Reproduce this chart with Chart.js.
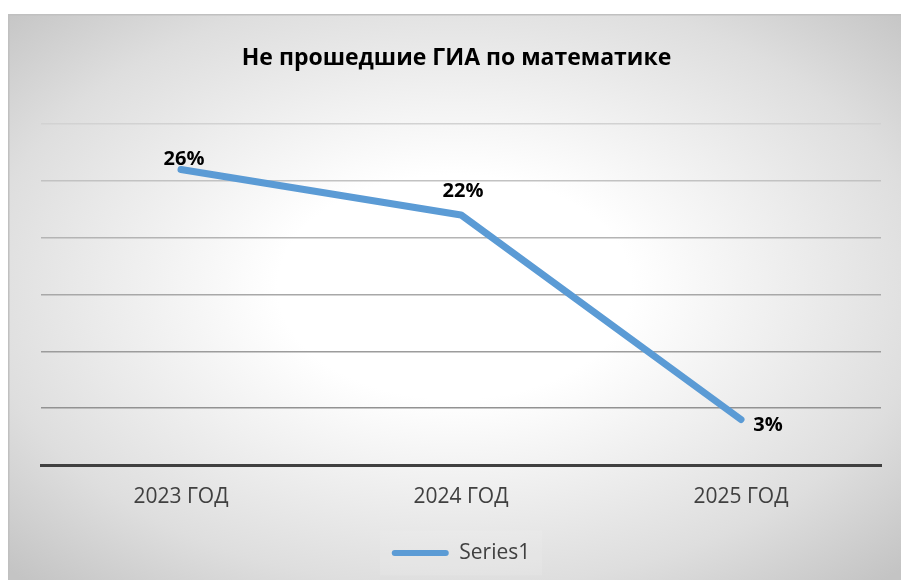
<!DOCTYPE html>
<html><head><meta charset="utf-8">
<script src="https://cdn.jsdelivr.net/npm/chart.js@4"></script>
<style>html,body{margin:0;padding:0;background:#fff}#wrap{width:901px;height:580px}</style>
</head><body><div id="wrap"><canvas id="c" width="901" height="580"></canvas></div>
<script>
// ---- data ----
const chartTitle = 'Не прошедшие ГИА по математике';
const categories = ['2023 ГОД', '2024 ГОД', '2025 ГОД'];
const seriesName = 'Series1';
const values = [26, 22, 4];
const valueLabels = ['26%', '22%', '3%'];
const yMin = 0, yMax = 30, yStep = 5;

// ---- style ----
const FONT = "'Open Sans', 'Noto Sans', sans-serif";
const BLUE = '#5b9bd5';
const labelOffsets = [[3, -10], [2, -24], [27, 6]];

const bgPlugin = {
  id: 'bg',
  beforeDraw(chart) {
    const ctx = chart.ctx;
    ctx.save();
    ctx.fillStyle = '#ffffff';
    ctx.fillRect(0, 0, chart.width, chart.height);
    const x0 = 8, y0 = 14, x1 = 901, y1 = 580;
    const w = x1 - x0, h = y1 - y0;
    ctx.save();
    ctx.beginPath(); ctx.rect(x0, y0, w, h); ctx.clip();
    ctx.translate(x0 + w / 2, y0 + h / 2 - 10);
    ctx.scale(1, h / w);
    const r = (w / 2) * 1.414;
    const g = ctx.createRadialGradient(0, 0, 0, 0, 0, r);
    g.addColorStop(0, '#ffffff');
    g.addColorStop(0.28, '#ffffff');
    g.addColorStop(0.75, '#dedede');
    g.addColorStop(1, '#c4c4c4');
    ctx.fillStyle = g;
    ctx.fillRect(-w, -w, 2 * w, 2 * w);
    ctx.restore();
    ctx.strokeStyle = '#c0c0c0';
    ctx.lineWidth = 1.5;
    ctx.strokeRect(x0 + 0.75, y0 + 0.75, w + 10, h + 10);
    // legend background
    const lg = chart.legend;
    if (lg && lg.legendHitBoxes && lg.legendHitBoxes.length) {
      const b = lg.legendHitBoxes[0];
      ctx.fillStyle = 'rgba(255,255,255,0.1)';
      ctx.fillRect(b.left - 12, b.top - 12, b.width + 24, b.height + 24);
    }
    ctx.restore();
  }
};

const labelPlugin = {
  id: 'valueLabels',
  afterDatasetsDraw(chart) {
    const ctx = chart.ctx;
    const meta = chart.getDatasetMeta(0);
    ctx.save();
    ctx.font = "bold 20px " + FONT;
    ctx.fillStyle = '#000000';
    ctx.textAlign = 'center';
    ctx.textBaseline = 'middle';
    meta.data.forEach((pt, i) => {
      const o = labelOffsets[i];
      ctx.fillText(valueLabels[i], pt.x + o[0], pt.y + o[1]);
    });
    ctx.restore();
  }
};

const gridColors = {30: '#d2d2d2', 25: '#c2c2c2', 20: '#b4b4b4', 15: '#a8a8a8', 10: '#9c9c9c', 5: '#929292', 0: 'rgba(0,0,0,0)'};

new Chart(document.getElementById('c'), {
  type: 'line',
  data: {
    labels: categories,
    datasets: [{
      label: seriesName,
      data: values,
      borderColor: BLUE,
      backgroundColor: BLUE,
      borderWidth: 7,
      borderCapStyle: 'round',
      borderJoinStyle: 'round',
      pointRadius: 0,
      pointHoverRadius: 0,
      tension: 0,
      fill: false
    }]
  },
  options: {
    responsive: false,
    animation: false,
    layout: { padding: { left: 32, right: 20, top: 0, bottom: 6.5 } },
    plugins: {
      title: {
        display: true,
        text: chartTitle,
        color: '#000000',
        font: { family: FONT, size: 23, weight: 'bold' },
        padding: { top: 45, bottom: 51.4 }
      },
      legend: {
        display: true,
        position: 'bottom',
        fullSize: false,
        labels: {
          boxWidth: 57,
          boxHeight: 6,
          padding: 8,
          color: '#404040',
          font: { family: FONT, size: 21 },
          generateLabels(chart) {
            return chart.data.datasets.map((d, i) => ({
              text: d.label, fillStyle: BLUE, strokeStyle: BLUE, lineWidth: 0,
              borderRadius: 3, datasetIndex: i, fontColor: '#404040'
            }));
          }
        }
      },
      tooltip: { enabled: false }
    },
    scales: {
      x: {
        offset: true,
        grid: { display: false, drawTicks: false },
        border: { display: true, color: '#404040', width: 3 },
        ticks: { color: '#404040', font: { family: FONT, size: 21 }, padding: 19.4 },
        afterFit(scale) { scale.height += 5.5; }
      },
      y: {
        min: yMin, max: yMax,
        ticks: { display: false, stepSize: yStep },
        grid: {
          drawTicks: false,
          lineWidth: 1.5,
          color: (c) => gridColors[c.tick ? c.tick.value : 0] || '#aaaaaa'
        },
        border: { display: false },
        afterFit(scale) { scale.width = 9; }
      }
    }
  },
  plugins: [bgPlugin, labelPlugin]
});
</script>
</body></html>
